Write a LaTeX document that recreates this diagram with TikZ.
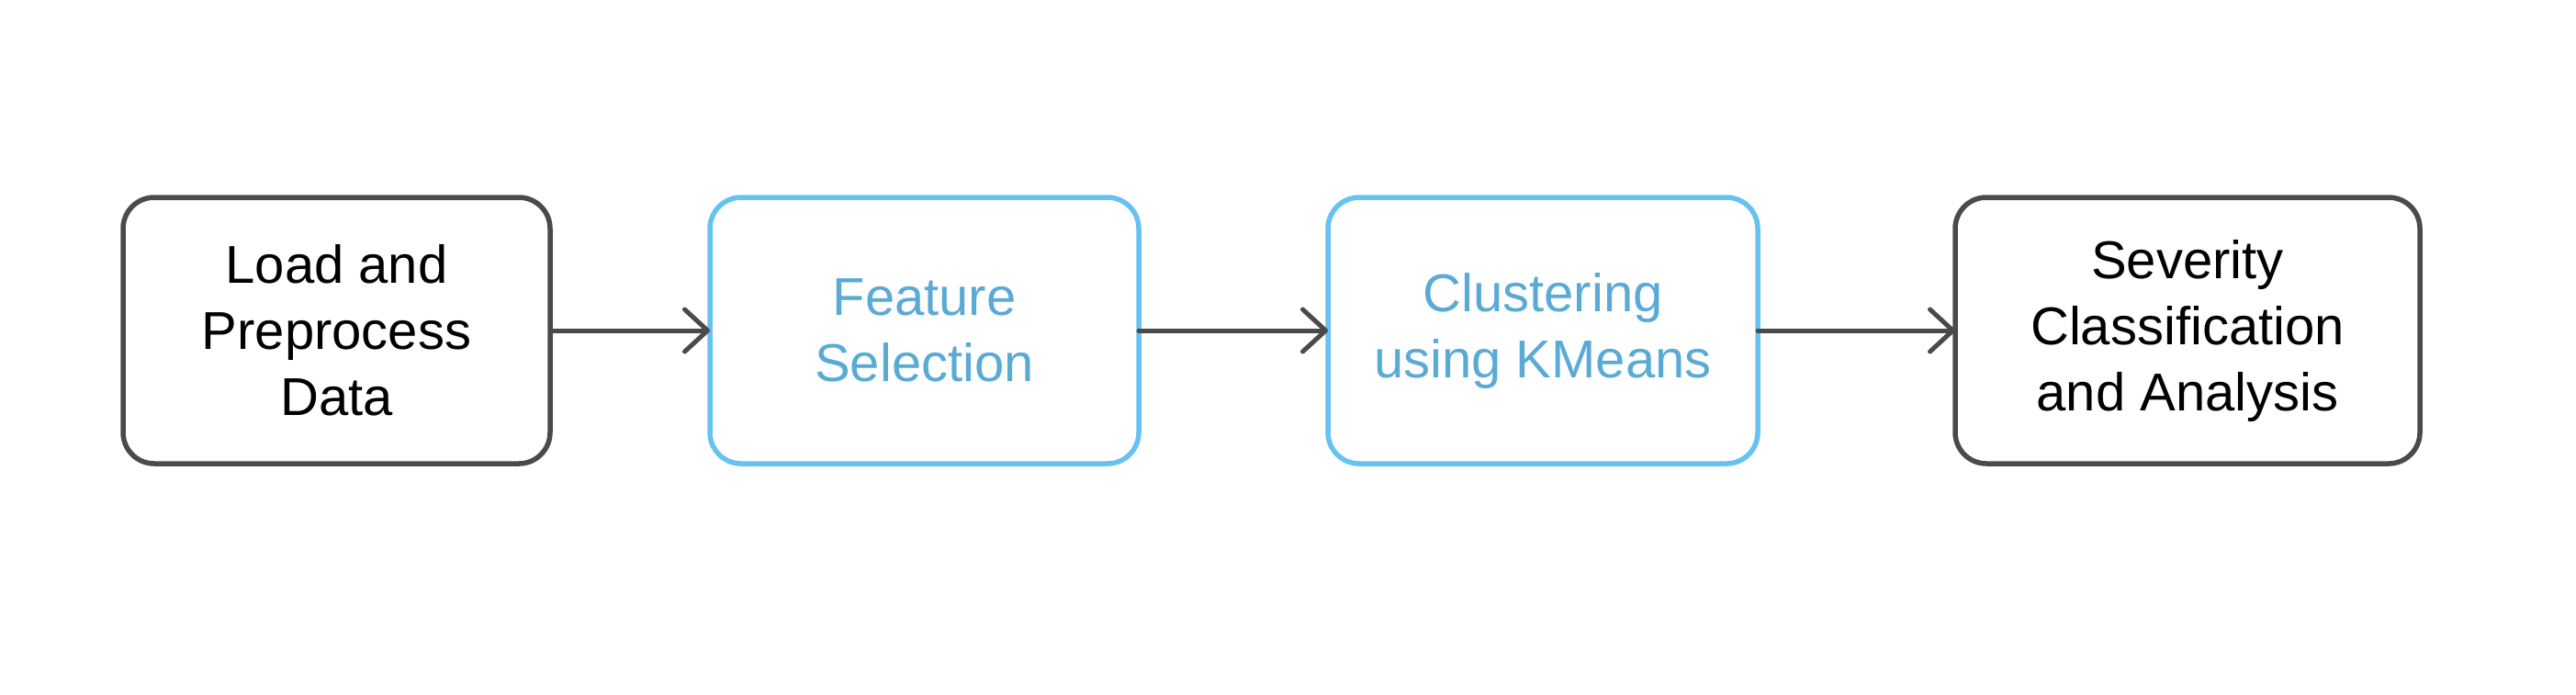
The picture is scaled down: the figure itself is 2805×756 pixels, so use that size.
\documentclass[tikz,border=0pt]{standalone}
\usepackage{fontspec}
\setmainfont{Liberation Sans}
\usetikzlibrary{arrows.meta}

\definecolor{stepgray}{HTML}{4A4A4A}
\definecolor{stepblue}{HTML}{66C2F0}
\definecolor{textblue}{HTML}{5AAAD6}

\begin{document}
\begin{tikzpicture}[
		    x=0.5pt, y=-0.5pt,
		    box/.style={
		        draw, line width=2.75pt, rounded corners=17pt,
		        minimum height=145pt, inner sep=0pt, outer sep=0pt,
		        align=center,
		        font=\fontsize{29pt}{36pt}\selectfont
		    },
		    graybox/.style={box, draw=stepgray, text=black},
		    bluebox/.style={box, draw=stepblue, text=textblue},
		    flow/.style={
		        draw=stepgray, line width=2.5pt, line cap=round,
		        -{Straight Barb[length=12.5pt, width=23pt, line width=2.5pt, round]}
		    }
		]
		\useasboundingbox (0, 0) rectangle (2805, 756);
		\node[graybox, minimum width=232.5pt] (Load) at (366.5, 360) {Load and\\Preprocess\\Data};
		\node[bluebox, minimum width=233.5pt] (Feature) at (1006.5, 360) {Feature\\Selection};
		\node[bluebox, minimum width=234pt] (Clustering) at (1680, 360) {Clustering\\using KMeans};
		\node[graybox, minimum width=253pt] (Severity) at (2382, 360) {Severity\\Classification\\and Analysis};
		\draw[flow] (Load) -- (Feature);
		\draw[flow] (Feature) -- (Clustering);
		\draw[flow] (Clustering) -- (Severity);
	\end{tikzpicture}
\end{document}
